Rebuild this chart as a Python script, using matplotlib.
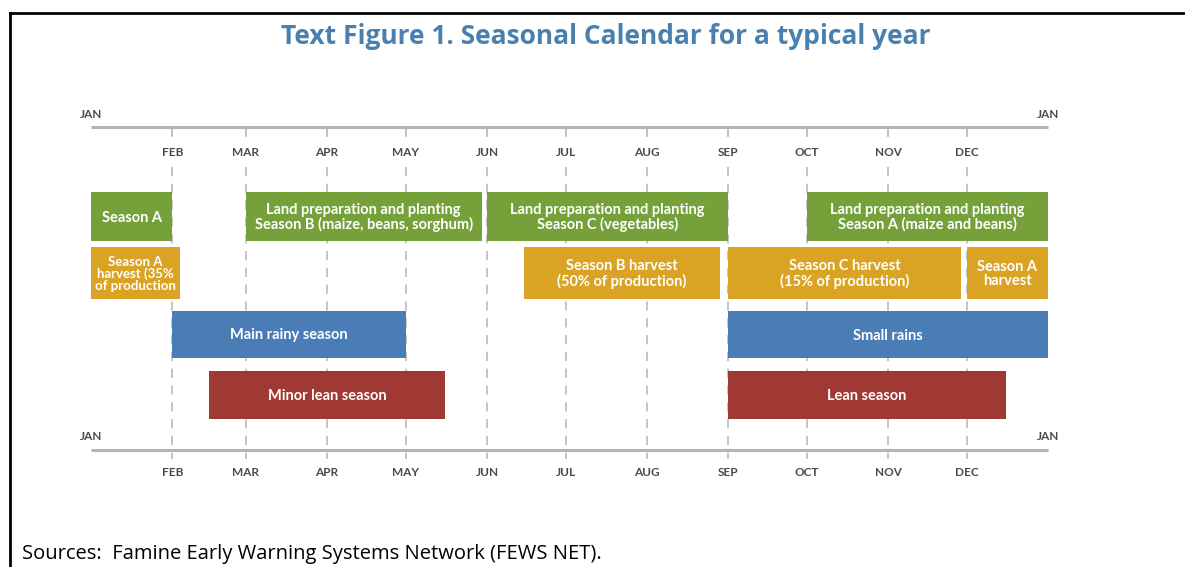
import matplotlib.pyplot as plt
import numpy as np

# month boundaries as day of year
month_labels = ['JAN', 'FEB', 'MAR', 'APR', 'MAY', 'JUN', 'JUL', 'AUG', 'SEP', 'OCT', 'NOV', 'DEC', 'JAN']
month_days = [0, 31, 59, 90, 120, 151, 181, 212, 243, 273, 304, 334, 365]

# row 1: land preparation and planting (green)
plant_start = [0, 59, 151, 273]
plant_end = [31, 149, 243, 365]
plant_text = ['Season A',
              'Land preparation and planting\nSeason B (maize, beans, sorghum)',
              'Land preparation and planting\nSeason C (vegetables)',
              'Land preparation and planting\nSeason A (maize and beans)']

# row 2: harvests (orange)
harv_start = [0, 165, 243, 334]
harv_end = [34, 240, 332, 365]
harv_text = ['Season A\nharvest (35%\nof production',
             'Season B harvest\n(50% of production)',
             'Season C harvest\n(15% of production)',
             'Season A\nharvest']

# row 3: rains (blue)
rain_start = [31, 243]
rain_end = [120, 365]
rain_text = ['Main rainy season', 'Small rains']

# row 4: lean seasons (red)
lean_start = [45, 243]
lean_end = [135, 349]
lean_text = ['Minor lean season', 'Lean season']

W, H = 1185, 567
X0 = 91          # pixel of JAN 1
PX = 957 / 365   # pixels per day

fig = plt.figure(figsize=(W / 100, H / 100), dpi=100)
ax = fig.add_axes([0, 0, 1, 1])
ax.set_xlim(-X0 / PX, (W - X0) / PX)
ax.set_ylim(H, 0)
ax.axis('off')

font = ['Lato', 'DejaVu Sans']
grey = '#b4b4b4'
lab_col = '#4a4a4a'

# frame lines
ax.plot([10 / PX - X0 / PX, (W + 5 - X0) / PX], [13, 13], color='black', lw=2, clip_on=False)
ax.plot([10 / PX - X0 / PX] * 2, [13, H + 5], color='black', lw=2, clip_on=False)

ax.text((606 - X0) / PX, 37, 'Text Figure 1. Seasonal Calendar for a typical year',
        ha='center', va='center', fontsize=19, fontweight='bold', color='#4a80b0',
        family=['Open Sans', 'DejaVu Sans'])

# axis lines
top_y, bot_y = 127, 450
for yy in (top_y, bot_y):
    ax.plot([0, 365], [yy, yy], color=grey, lw=2.2, solid_capstyle='butt', zorder=1)
for yy in (114, 436):
    ax.text(0, yy, month_labels[0], ha='center', va='center', fontsize=8.5, fontweight='bold',
            color=lab_col, family=font)
    ax.text(365, yy, month_labels[-1], ha='center', va='center', fontsize=8.5, fontweight='bold',
            color=lab_col, family=font)

for d, lab in zip(month_days[1:-1], month_labels[1:-1]):
    ax.plot([d, d], [top_y, 136], color=grey, lw=1.2, zorder=1)
    ax.plot([d, d], [167, 459], color=grey, lw=1.1, ls=(0, (6, 5)), zorder=1)
    ax.text(d, 152, lab, ha='center', va='center', fontsize=8.5, fontweight='bold',
            color=lab_col, family=font)
    ax.text(d, 473, lab, ha='center', va='center', fontsize=8.5, fontweight='bold',
            color=lab_col, family=font)

rows = [
    (plant_start, plant_end, plant_text, '#76a03a', 192, 49),
    (harv_start, harv_end, harv_text, '#dba324', 247, 52),
    (rain_start, rain_end, rain_text, '#4a7db6', 311, 47),
    (lean_start, lean_end, lean_text, '#a03833', 371, 48),
]
for starts, ends, texts, col, y, h in rows:
    s = np.array(starts)
    e = np.array(ends)
    ax.barh([y + h / 2] * len(s), e - s, left=s, height=h, color=col, zorder=2)
    for a, b, t in zip(s, e, texts):
        n = t.count('\n') + 1
        ax.text((a + b) / 2, y + h / 2 + 1, t, ha='center', va='center',
                fontsize=10.5 if n < 3 else 9.5, color='white', fontweight='bold',
                family=font, linespacing=1.0 if n < 3 else 0.95, zorder=3)

ax.text((22 - X0) / PX, 554, 'Sources:  Famine Early Warning Systems Network (FEWS NET).',
        ha='left', va='center', fontsize=14.5, color='black',
        family=['Open Sans', 'DejaVu Sans'])

fig.savefig('out.png', dpi=100)
